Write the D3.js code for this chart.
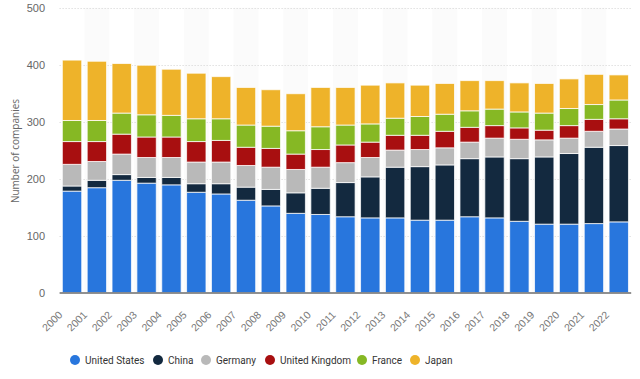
<!DOCTYPE html>
<html>
<head>
<meta charset="utf-8">
<script src="https://cdn.jsdelivr.net/npm/d3@7"></script>
<style>
  body { margin: 0; background: #fff; }
  svg { font-family: "Open Sans", "Liberation Sans", sans-serif; }
</style>
</head>
<body>
<div id="chart"></div>
<script>
var years = ["2000","2001","2002","2003","2004","2005","2006","2007","2008","2009","2010","2011",
             "2012","2013","2014","2015","2016","2017","2018","2019","2020","2021","2022"];
var unitedStates  = [178,184,197,192,189,176,173,162,152,139,137,133,131,131,127,127,133,131,125,120,120,121,124];
var china         = [9,13,10,10,13,15,18,23,29,36,46,60,72,89,94,97,102,107,110,118,124,134,134];
var germany       = [38,33,36,35,35,38,38,38,39,41,37,35,34,30,30,30,29,33,34,30,27,28,29];
var unitedKingdom = [40,35,35,36,36,36,38,32,33,27,31,31,27,26,25,29,26,22,20,17,22,21,18];
var france        = [37,37,37,39,38,40,38,39,39,41,40,35,32,30,33,30,29,29,28,30,30,26,33];
var japan         = [106,104,87,87,81,80,74,66,64,65,69,66,68,62,55,54,53,50,51,52,52,53,44];
var seriesNames = ["United States","China","Germany","United Kingdom","France","Japan"];
var seriesColors = ["#2876dd","#13293f","#b9b9b9","#a80f10","#86b824","#eeb32a"];
var yTicks = [0,100,200,300,400,500];

var width = 640, height = 379;
var svg = d3.select("#chart").append("svg")
    .attr("width", width)
    .attr("height", height);

var rows = years.map(function (y, i) {
    return {
        year: y,
        "United States": unitedStates[i],
        "China": china[i],
        "Germany": germany[i],
        "United Kingdom": unitedKingdom[i],
        "France": france[i],
        "Japan": japan[i]
    };
});
var stacked = d3.stack().keys(seriesNames)(rows);

var x = d3.scaleBand().domain(years).range([59.6, 631.2]).paddingInner(0.22).paddingOuter(0.11);
var y = d3.scaleLinear().domain([0, 500]).range([292.5, 7.7]);
var color = d3.scaleOrdinal().domain(seriesNames).range(seriesColors);

// alternating column bands
var step = x.step();
svg.append("g").selectAll("rect")
    .data(years.filter(function (d, i) { return i % 2 === 1; }))
    .enter().append("rect")
    .attr("x", function (d) { return x(d) - (step - x.bandwidth()) / 2; })
    .attr("y", y(500))
    .attr("width", step)
    .attr("height", y(0) - y(500))
    .attr("fill", "#fbfbfb");

// grid lines
svg.append("g").selectAll("line")
    .data(yTicks.filter(function (d) { return d > 0; }))
    .enter().append("line")
    .attr("x1", 59.6).attr("x2", 631.2)
    .attr("y1", function (d) { return Math.round(y(d)) + 0.5; })
    .attr("y2", function (d) { return Math.round(y(d)) + 0.5; })
    .attr("stroke", "#d2d2d2")
    .attr("stroke-dasharray", "1,2");

// y axis labels
var yAxis = d3.axisLeft(y).tickValues(yTicks).tickSize(0).tickPadding(0);
var gy = svg.append("g").attr("transform", "translate(45,0)").call(yAxis);
gy.select(".domain").remove();
gy.selectAll("text").attr("font-size", 11).attr("fill", "#666").attr("font-family", "inherit");

svg.append("text")
    .attr("transform", "translate(19,151) rotate(-90)")
    .attr("text-anchor", "middle")
    .attr("font-size", 10)
    .attr("fill", "#666")
    .text("Number of companies");

// bars
svg.append("g").selectAll("g")
    .data(stacked)
    .enter().append("g")
    .attr("fill", function (d) { return color(d.key); })
    .selectAll("rect")
    .data(function (d) { return d; })
    .enter().append("rect")
    .attr("x", function (d) { return x(d.data.year); })
    .attr("y", function (d) { return y(d[1]); })
    .attr("width", x.bandwidth())
    .attr("height", function (d) { return y(d[0]) - y(d[1]); })
    .attr("stroke", "#fff")
    .attr("stroke-opacity", 0.75)
    .attr("stroke-width", 1);

// x axis
var xAxis = d3.axisBottom(x).tickSize(0).tickPadding(0);
var gx = svg.append("g").attr("transform", "translate(0," + y(0) + ")").call(xAxis);
gx.select(".domain").attr("stroke", "#222").attr("d", "M59.6,0.5H631.2");
gx.selectAll("text")
    .attr("font-size", 10.5)
    .attr("fill", "#777")
    .attr("font-family", "inherit")
    .attr("text-anchor", "end")
    .attr("dy", null)
    .attr("y", 0)
    .attr("transform", "translate(-9,23) rotate(-45)");

// legend
var legendX = [75, 158, 206, 270, 362, 415];
var legend = svg.append("g").selectAll("g")
    .data(seriesNames)
    .enter().append("g")
    .attr("transform", function (d, i) { return "translate(" + legendX[i] + ",360)"; });
legend.append("circle").attr("r", 5).attr("fill", function (d) { return color(d); });
legend.append("text")
    .attr("x", 10)
    .attr("dy", "0.35em")
    .attr("font-size", 10)
    .attr("font-family", "Roboto, sans-serif")
    .attr("fill", "#333")
    .text(function (d) { return d; });
</script>
</body>
</html>
